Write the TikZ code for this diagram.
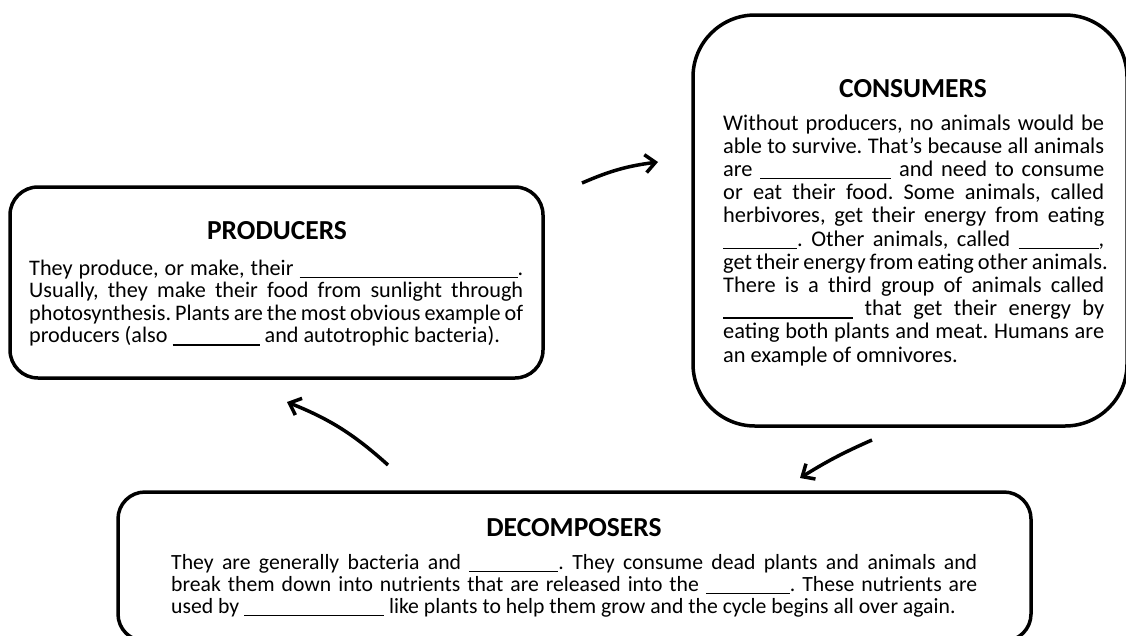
\documentclass[tikz,border=0pt]{standalone}
\usepackage{fontspec}
\setmainfont{Carlito}
\usetikzlibrary{arrows.meta}
\newlength{\jw}
\newcommand{\jl}[1]{\noindent\hbox to \jw{#1}\par}
\newcommand{\blank}[1]{\rule[-3pt]{#1}{1.3pt}}
\newcommand{\bodyfont}[3]{\fontsize{#3}{#1}\selectfont\frenchspacing\spaceskip=0.226em plus 1em minus 0.05em\relax\setlength{\jw}{#2}}
\begin{document}
\begin{tikzpicture}[x=1pt,y=-1pt,
  box/.style={draw, line width=3.5pt, rounded corners=#1, inner sep=0pt},
  boxtitle/.style={font=\fontsize{27.5}{30}\selectfont\bfseries, anchor=base, inner sep=0pt},
  boxbody/.style={anchor=base west, inner sep=0pt, text width=#1},
  cyclearrow/.style={line width=3.5pt, -{Straight Barb[length=10pt,width=18pt]}}]
\useasboundingbox (0,0) rectangle (1126,635);
\clip (0,0) rectangle (1126,635);
\fill[white] (0,0) rectangle (1126,635);

% boxes
\node[box=28pt, minimum width=533pt, minimum height=191pt] (prod) at (276.5,282.5) {};
\node[box=62pt, minimum width=434pt, minimum height=411pt] (cons) at (910,220.5) {};
\node[box=27pt, minimum width=913pt, minimum height=149pt] (deco) at (574.5,566.5) {};

% producers
\node[boxtitle] (prodtitle) at (277,239) {PRODUCERS};
\node[boxbody=494pt] (prodtext) at (29,275) {\bodyfont{22.5pt}{494pt}{22.2}%
\jl{They produce, or make, their \blank{218pt}.}
\jl{Usually, they make their food from sunlight through}
\jl{photosynthesis. Plants are the most obvious example of}
\jl{producers (also \blank{87pt} and autotrophic bacteria).\hfil}};

% consumers
\node[boxtitle] (constitle) at (913,97) {CONSUMERS};
\node[boxbody=381pt] (constext) at (723,130) {\bodyfont{23.2pt}{381pt}{22.4}%
\jl{Without producers, no animals would be}
\jl{able to survive. That’s because all animals}
\jl{are \blank{131pt} and need to consume}
\jl{or eat their food. Some animals, called}
\jl{herbivores, get their energy from eating}
\jl{\blank{74pt}. Other animals, called \blank{80pt},}
\jl{get their energy from eating other animals.}
\jl{There is a third group of animals called}
\jl{\blank{130pt} that get their energy by}
\jl{eating both plants and meat. Humans are}
\jl{an example of omnivores.\hfil}};

% decomposers
\node[boxtitle] (decotitle) at (574,536) {DECOMPOSERS};
\node[boxbody=806pt] (decotext) at (171,569) {\bodyfont{22pt}{806pt}{21.7}%
\jl{They are generally bacteria and \blank{89pt}. They consume dead plants and animals and}
\jl{break them down into nutrients that are released into the \blank{84pt}. These nutrients are}
\jl{used by \blank{140pt} like plants to help them grow and the cycle begins all over again.\hfil}};

% arrows
\coordinate (a1s) at (582,183);
\coordinate (a1e) at (658,162);
\coordinate (a2s) at (872,440);
\coordinate (a2e) at (800,478);
\coordinate (a3s) at (388,465);
\coordinate (a3e) at (287,402);
\draw[cyclearrow] (a1s) to[bend left=8] (a1e);
\draw[cyclearrow] (a2s) to[bend right=4] (a2e);
\draw[cyclearrow] (a3s) to[bend right=10] (a3e);
\end{tikzpicture}
\end{document}
